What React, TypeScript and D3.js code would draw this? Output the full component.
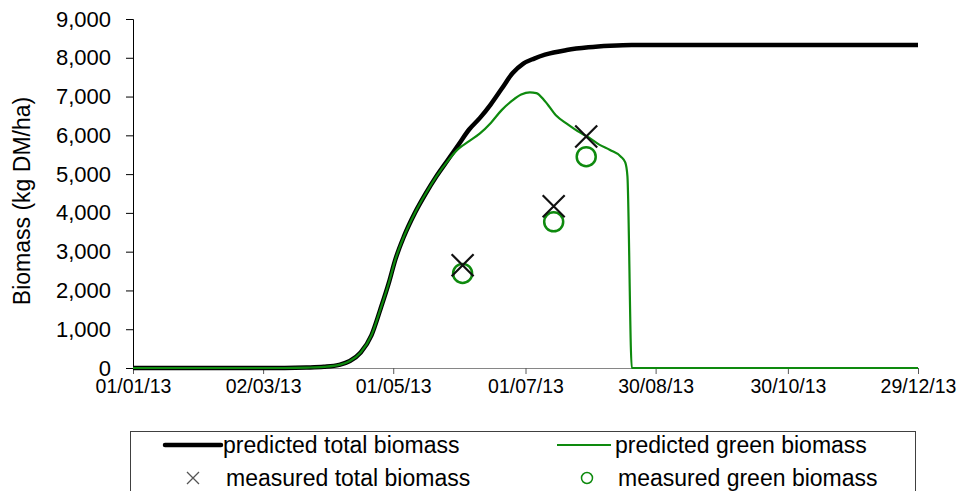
import * as d3 from "d3";
import { useEffect, useRef } from "react";

// predicted total biomass (kg DM/ha)
const totalDates = [
  "2013-01-01", "2013-03-12", "2013-03-22", "2013-03-30", "2013-04-06", "2013-04-11",
  "2013-04-16", "2013-04-21", "2013-04-25", "2013-04-29", "2013-05-02", "2013-05-06",
  "2013-05-11", "2013-05-16", "2013-05-21", "2013-05-26", "2013-05-31", "2013-06-05",
  "2013-06-10", "2013-06-15", "2013-06-20", "2013-06-25", "2013-06-30", "2013-07-05",
  "2013-07-10", "2013-07-20", "2013-07-30", "2013-08-09", "2013-08-19", "2013-12-29",
];
const totalValues = [
  0, 0, 10, 30, 80, 180,
  400, 850, 1500, 2200, 2800, 3400,
  4000, 4500, 4950, 5350, 5750, 6150,
  6450, 6800, 7200, 7600, 7850, 7980,
  8080, 8200, 8270, 8310, 8330, 8330,
];

// predicted green biomass
const greenDates = [
  "2013-01-01", "2013-03-12", "2013-03-22", "2013-03-30", "2013-04-06", "2013-04-11",
  "2013-04-16", "2013-04-21", "2013-04-25", "2013-04-29", "2013-05-02", "2013-05-06",
  "2013-05-11", "2013-05-16", "2013-05-21", "2013-05-26", "2013-05-31", "2013-06-05",
  "2013-06-10", "2013-06-15", "2013-06-20", "2013-06-25", "2013-06-29", "2013-07-03",
  "2013-07-06", "2013-07-10", "2013-07-15", "2013-07-20", "2013-07-25", "2013-07-30",
  "2013-08-04", "2013-08-09", "2013-08-14", "2013-08-16", "2013-08-17", "2013-08-19",
  "2013-12-29",
];
const greenValues = [
  0, 0, 10, 30, 80, 180,
  400, 850, 1500, 2200, 2800, 3400,
  4000, 4500, 4950, 5330, 5650, 5850,
  6050, 6320, 6650, 6900, 7050, 7110,
  7090, 6880, 6520, 6300, 6110, 5950,
  5760, 5620, 5450, 5300, 4950, 0,
  0,
];

// field measurements
const measuredDates = ["2013-06-02", "2013-07-14", "2013-07-29"];
const measuredTotal = [2650, 4170, 5970];
const measuredGreen = [2440, 3770, 5450];

const yTicks = [0, 1000, 2000, 3000, 4000, 5000, 6000, 7000, 8000, 9000];
const xTickDates = ["2013-01-01", "2013-03-02", "2013-05-01", "2013-07-01", "2013-08-30", "2013-10-30", "2013-12-29"];

const parse = d3.utcParse("%Y-%m-%d");
const FONT = "'Liberation Sans', Arial, sans-serif";
const GREEN = "#0e8a0e";

export default function App() {
  const ref = useRef<SVGSVGElement | null>(null);

  useEffect(() => {
    if (!ref.current) return;
    const width = 966;
    const height = 491;
    const margin = { top: 19, right: 48, bottom: 123, left: 133 };
    const innerW = width - margin.left - margin.right;
    const innerH = height - margin.top - margin.bottom;

    const total = totalDates.map((d, i) => ({ date: parse(d)!, v: totalValues[i] }));
    const green = greenDates.map((d, i) => ({ date: parse(d)!, v: greenValues[i] }));
    const measured = measuredDates.map((d, i) => ({ date: parse(d)!, total: measuredTotal[i], green: measuredGreen[i] }));

    const x = d3
      .scaleUtc()
      .domain([parse("2013-01-01")!, parse("2013-12-29")!])
      .range([0, innerW]);
    const y = d3.scaleLinear().domain([0, 9000]).range([innerH, 0]);

    const svg = d3.select(ref.current);
    svg.selectAll("*").remove();

    const g = svg.append("g").attr("transform", `translate(${margin.left},${margin.top})`);

    // x axis (grey baseline)
    const xAxis = g
      .append("g")
      .attr("transform", `translate(0,${innerH})`)
      .call(
        d3
          .axisBottom(x)
          .tickValues(xTickDates.map((d) => parse(d)!))
          .tickFormat((d) => d3.utcFormat("%d/%m/%y")(d as Date))
          .tickSize(6)
          .tickPadding(5)
      );
    xAxis.select(".domain").attr("stroke", "#868686");
    xAxis.selectAll(".tick line").attr("stroke", "#595959");
    xAxis.selectAll("text").attr("fill", "#000").style("font-family", FONT).style("font-size", "19.5px");

    // y axis
    const yAxis = g.append("g").call(
      d3
        .axisLeft(y)
        .tickValues(yTicks)
        .tickFormat((v) => d3.format(",")(v as number))
        .tickSize(7)
        .tickPadding(15)
    );
    yAxis.select(".domain").attr("stroke", "#000");
    yAxis.selectAll(".tick line").attr("stroke", "#000");
    yAxis.selectAll("text").attr("fill", "#000").style("font-family", FONT).style("font-size", "22px");

    svg
      .append("text")
      .attr("transform", `translate(30,${margin.top + 182}) rotate(-90)`)
      .attr("text-anchor", "middle")
      .style("font-family", FONT)
      .style("font-size", "23px")
      .text("Biomass (kg DM/ha)");

    const line = d3
      .line<{ date: Date; v: number }>()
      .x((d) => x(d.date))
      .y((d) => y(d.v))
      .curve(d3.curveMonotoneX);

    g.append("path").datum(total).attr("fill", "none").attr("stroke", "#000").attr("stroke-width", 4.5).attr("d", line);
    g.append("path").datum(green).attr("fill", "none").attr("stroke", GREEN).attr("stroke-width", 2.2).attr("d", line);

    // measured green: circles
    g.selectAll(".mg")
      .data(measured)
      .join("circle")
      .attr("cx", (d) => x(d.date))
      .attr("cy", (d) => y(d.green))
      .attr("r", 9.5)
      .attr("fill", "none")
      .attr("stroke", GREEN)
      .attr("stroke-width", 2.5);

    // measured total: crosses
    const s = 11;
    g.selectAll(".mt")
      .data(measured)
      .join("path")
      .attr("d", (d) => {
        const cx = x(d.date);
        const cy = y(d.total);
        return `M${cx - s},${cy - s}L${cx + s},${cy + s}M${cx - s},${cy + s}L${cx + s},${cy - s}`;
      })
      .attr("stroke", "#111")
      .attr("stroke-width", 2.2)
      .attr("fill", "none");

    // legend
    const leg = svg.append("g");
    leg
      .append("rect")
      .attr("x", 130.5)
      .attr("y", 431.5)
      .attr("width", 785)
      .attr("height", 80)
      .attr("fill", "none")
      .attr("stroke", "#404040");

    const items = [
      { label: "predicted total biomass", kind: "thick", x: 165, y: 445 },
      { label: "measured total biomass", kind: "cross", x: 165, y: 478 },
      { label: "predicted green biomass", kind: "thin", x: 557, y: 445 },
      { label: "measured green biomass", kind: "circle", x: 557, y: 478 },
    ];
    items.forEach((it) => {
      const row = leg.append("g").attr("transform", `translate(${it.x},${it.y})`);
      if (it.kind === "thick") {
        row.append("line").attr("x1", 0).attr("x2", 56).attr("stroke", "#000").attr("stroke-width", 4.5).attr("stroke-linecap", "round");
      } else if (it.kind === "thin") {
        row.append("line").attr("x1", 0).attr("x2", 54).attr("stroke", GREEN).attr("stroke-width", 2);
      } else if (it.kind === "cross") {
        row.append("path").attr("d", "M22,-6L34,6M22,6L34,-6").attr("stroke", "#555").attr("stroke-width", 1.3);
      } else {
        row.append("circle").attr("cx", 30).attr("cy", 0).attr("r", 5.5).attr("fill", "none").attr("stroke", GREEN).attr("stroke-width", 1.5);
      }
      row
        .append("text")
        .attr("x", it.kind === "thick" || it.kind === "thin" ? 58 : 61)
        .attr("y", 8)
        .style("font-family", FONT)
        .style("font-size", "23px")
        .text(it.label);
    });
  }, []);

  return (
    <svg
      ref={ref}
      width={966}
      height={491}
      style={{ position: "absolute", left: 0, top: 0, background: "#fff" }}
      role="img"
      aria-label="Predicted and measured biomass through 2013"
    />
  );
}
